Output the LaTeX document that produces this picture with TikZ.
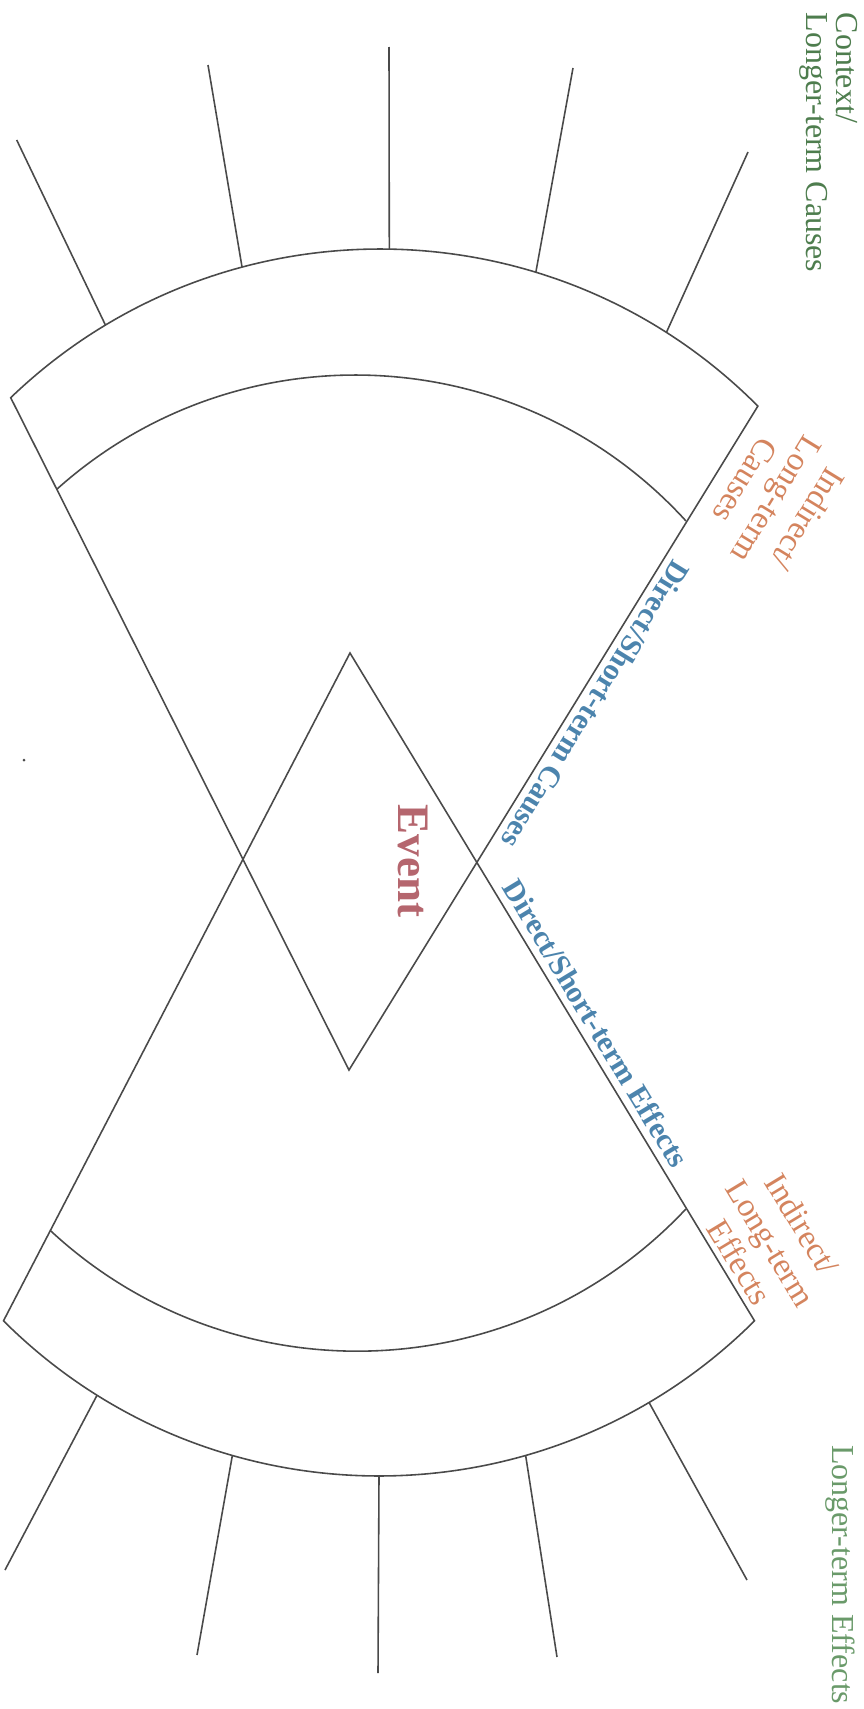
\documentclass[tikz,border=0pt]{standalone}
\usepackage{fontspec}
\setmainfont{Liberation Serif}
\definecolor{edge}{HTML}{4A4A4A}
\definecolor{ctxgreen}{HTML}{4E7D4E}
\definecolor{effgreen}{HTML}{6A9A6A}
\definecolor{longorange}{HTML}{D4845E}
\definecolor{shortblue}{HTML}{4C84AD}
\definecolor{eventred}{HTML}{B5666E}
\tikzset{
  rim/.style={draw=edge,line width=0.45pt},
  spoke/.style={draw=edge,line width=0.45pt},
  shortlbl/.style={text=shortblue,font=\fontsize{8.6}{10}\selectfont\bfseries,inner sep=0pt},
  longlbl/.style={text=longorange,font=\fontsize{9.4}{10.4}\selectfont,align=center,inner sep=0pt},
  ctxlbl/.style={font=\fontsize{9.1}{8.5}\selectfont,inner sep=0pt}
}
\begin{document}
\begin{tikzpicture}[x=0.01cm,y=-0.01cm]
\useasboundingbox (0,0) rectangle (864,1709);
% centres of the rims
\coordinate (cuo) at (380,782);
\coordinate (cui) at (355.4,822.4);
\coordinate (clo) at (379,944);
\coordinate (cli) at (357.3,900.4);
% apexes of the two wedges
\coordinate (ua) at (349,1070);
\coordinate (la) at (350,653);
% ends of the rims
\coordinate (uol) at ([shift={(-133.86:533)}]cuo);
\coordinate (uor) at ([shift={(-44.85:533)}]cuo);
\coordinate (uil) at ([shift={(-131.83:447.4)}]cui);
\coordinate (lol) at ([shift={(134.9:532)}]clo);
\coordinate (lor) at ([shift={(45.1:532)}]clo);
\coordinate (lil) at ([shift={(132.9:450.8)}]cli);
% causes wedge
\draw[rim] (ua) -- (uol) arc[start angle=-133.86,end angle=-44.85,radius=533] -- cycle;
\draw[rim] (uil) arc[start angle=-131.83,end angle=-42.36,radius=447.4];
% effects wedge
\draw[rim] (la) -- (lol) arc[start angle=134.9,end angle=45.1,radius=532] -- cycle;
\draw[rim] (lil) arc[start angle=132.9,end angle=43.2,radius=450.8];
% spokes
\foreach \a/\tx/\ty in {-121/16.7/140,-105/208/65,-89/389/47,-73/573/68,-57.5/748/152}{
  \coordinate (ub) at ([shift={(\a:533)}]cuo);
  \coordinate (ut) at (\tx,\ty);
  \draw[spoke] (ub) -- (ut);
}
\foreach \a/\tx/\ty in {122/5/1570,106/197/1655,90/378/1673,74/557/1657,59.5/747/1580}{
  \coordinate (lb) at ([shift={(\a:532)}]clo);
  \coordinate (lt) at (\tx,\ty);
  \draw[spoke] (lb) -- (lt);
}
\fill[edge] (24,760) circle[radius=1.5];
% labels
\path (uor) -- (ua) node[pos=0.435,sloped,allow upside down,above=2pt,shortlbl] (dsc) {Direct/Short-term Causes};
\path (la) -- (lor) node[pos=0.569,sloped,above=2pt,shortlbl] (dse) {Direct/Short-term Effects};
\node[longlbl,rotate=-121.5] (ilc) at (777,500) {Indirect/\\Long-term\\Causes};
\node[longlbl,rotate=-58.8] (ile) at (771,1243) {Indirect/\\Long-term\\Effects};
\node[font=\fontsize{12.8}{14}\selectfont\bfseries,text=eventred,rotate=-90] (event) at (413,861) {Event};
\node[ctxlbl,text=ctxgreen,rotate=-90,anchor=north west,align=left] (ctx) at (858,12) {Context/\\Longer-term Causes};
\node[ctxlbl,text=effgreen,rotate=-90,anchor=base east] (lte) at (832,1705) {Longer-term Effects};
\end{tikzpicture}
\end{document}
